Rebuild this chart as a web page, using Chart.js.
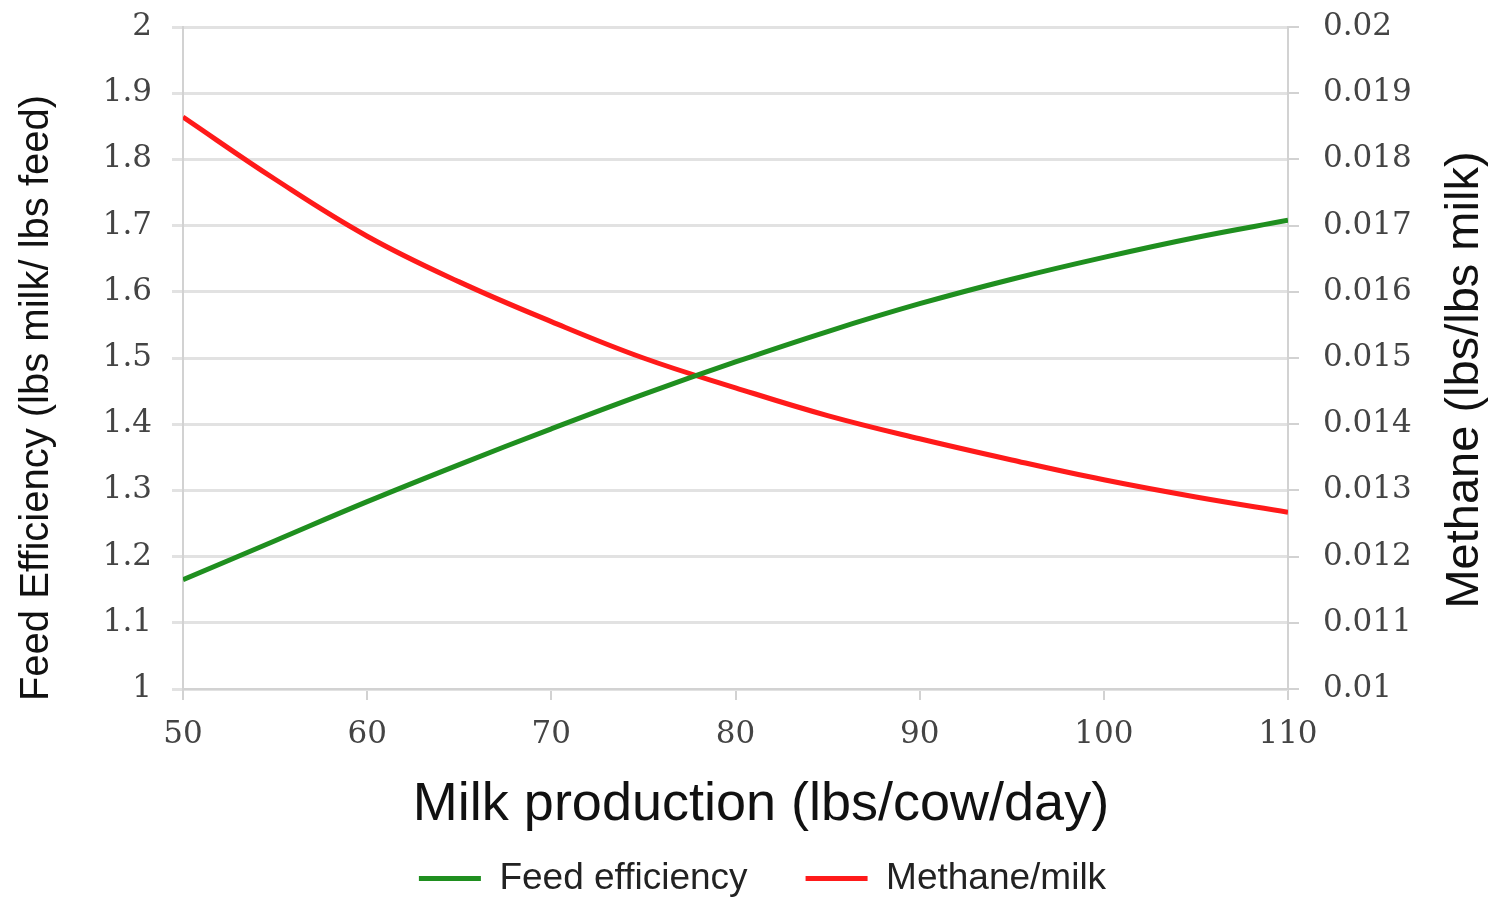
<!DOCTYPE html>
<html>
<head>
<meta charset="utf-8">
<script src="https://cdn.jsdelivr.net/npm/chart.js@4.4.1/dist/chart.umd.min.js"></script>
<style>
  html, body { margin: 0; padding: 0; background: #fff; }
  #wrap { width: 1489px; height: 900px; }
</style>
</head>
<body>
<div id="wrap"><canvas id="milkChart"></canvas></div>
<script>
// values
const milk = [50, 55, 60, 65, 70, 75, 80, 85, 90, 95, 100, 105, 110];
const feedEfficiency = [1.165, 1.224, 1.283, 1.339, 1.393, 1.445, 1.494, 1.54, 1.582, 1.619, 1.652, 1.682, 1.708];
const methanePerMilk = [0.01864, 0.0177, 0.01684, 0.01615, 0.01555, 0.015, 0.01455, 0.01413, 0.01378, 0.01346, 0.01316, 0.0129, 0.01267];

const xTicks = [50, 60, 70, 80, 90, 100, 110];
const leftTicks = [1, 1.1, 1.2, 1.3, 1.4, 1.5, 1.6, 1.7, 1.8, 1.9, 2];
const rightTicks = [0.01, 0.011, 0.012, 0.013, 0.014, 0.015, 0.016, 0.017, 0.018, 0.019, 0.02];

const seriesNames = ["Feed efficiency", "Methane/milk"];
const xTitle = "Milk production (lbs/cow/day)";
const leftTitle = "Feed Efficiency (lbs milk/ lbs feed)";
const rightTitle = "Methane (lbs/lbs milk)";

const tickFont = { family: "'DejaVu Serif', serif", size: 31 };
const tickColor = "#444";
const gridColor = "#e2e2e2";
const axisColor = "#d2d2d2";

function points(ys) {
    return milk.map((m, i) => ({ x: m, y: ys[i] }));
}

// y axes: fixed width, no extra room above/below for the end labels
function fixY(width) {
    return s => {
        s.width = width;
        s.paddingTop = 0;
        s.paddingBottom = 0;
    };
}

// legend box: fixed height so the row sits near the bottom edge, nudged right a little
const legendPlace = {
    id: "legendPlace",
    afterInit(chart) {
        const lg = chart.legend;
        const fit = lg.fit;
        lg.fit = function () {
            fit.call(this);
            this.height = 98;
        };
    },
    afterLayout(chart) {
        chart.legend.left += 18;
        chart.legend.right += 18;
    }
};

// axis titles (left and right read bottom to top)
const axisTitles = {
    id: "axisTitles",
    afterDraw(chart) {
        const ctx = chart.ctx;
        ctx.save();
        ctx.fillStyle = "#111";
        ctx.textAlign = "center";
        ctx.textBaseline = "alphabetic";

        ctx.font = "54px 'Liberation Sans', Arial, sans-serif";
        ctx.fillText(xTitle, 761, 820);

        ctx.save();
        ctx.translate(48, 398);
        ctx.rotate(-Math.PI / 2);
        ctx.font = "40px 'Liberation Sans', Arial, sans-serif";
        ctx.fillText(leftTitle, 0, 0);
        ctx.restore();

        ctx.save();
        ctx.translate(1478, 380);
        ctx.rotate(-Math.PI / 2);
        ctx.font = "47px 'Liberation Sans', Arial, sans-serif";
        ctx.fillText(rightTitle, 0, 0);
        ctx.restore();

        ctx.restore();
    }
};

new Chart(document.getElementById("milkChart"), {
    type: "line",
    data: {
        datasets: [{
            label: seriesNames[0],
            data: points(feedEfficiency),
            yAxisID: "y",
            borderColor: "#1f8f1f",
            backgroundColor: "#1f8f1f",
            borderWidth: 5,
            pointRadius: 0,
            tension: 0.4
        }, {
            label: seriesNames[1],
            data: points(methanePerMilk),
            yAxisID: "y2",
            borderColor: "#ff1a1a",
            backgroundColor: "#ff1a1a",
            borderWidth: 5,
            pointRadius: 0,
            tension: 0.4
        }]
    },
    options: {
        responsive: true,
        maintainAspectRatio: false,
        animation: false,
        layout: { padding: { top: 27, left: 0, right: 0, bottom: 0 } },
        plugins: {
            tooltip: { enabled: false },
            legend: {
                position: "bottom",
                labels: {
                    usePointStyle: true,
                    pointStyle: "line",
                    pointStyleWidth: 62,
                    boxHeight: 6,
                    padding: 58,
                    color: "#222",
                    font: { family: "'Liberation Sans', Arial, sans-serif", size: 37 }
                }
            }
        },
        scales: {
            x: {
                type: "linear",
                min: 50,
                max: 110,
                afterBuildTicks: s => { s.ticks = xTicks.map(v => ({ value: v })); },
                afterFit: s => { s.height = 113; },
                ticks: { font: tickFont, color: tickColor, padding: 16, maxRotation: 0 },
                grid: { drawOnChartArea: false, drawTicks: true, tickLength: 11, color: axisColor, lineWidth: 2 },
                border: { display: true, color: axisColor, width: 2 }
            },
            y: {
                position: "left",
                min: 1,
                max: 2,
                afterBuildTicks: s => { s.ticks = leftTicks.map(v => ({ value: v })); },
                afterFit: fixY(183),
                ticks: { font: tickFont, color: tickColor, padding: 20, callback: v => String(+v.toFixed(2)) },
                grid: { color: gridColor, lineWidth: 3, tickLength: 11 },
                border: { display: true, color: axisColor, width: 2 }
            },
            y2: {
                position: "right",
                min: 0.01,
                max: 0.02,
                afterBuildTicks: s => { s.ticks = rightTicks.map(v => ({ value: v })); },
                afterFit: fixY(201),
                ticks: { font: tickFont, color: tickColor, padding: 24, callback: v => String(+v.toFixed(4)) },
                grid: { drawOnChartArea: false, color: axisColor, lineWidth: 2, tickLength: 11 },
                border: { display: true, color: axisColor, width: 2 }
            }
        }
    },
    plugins: [legendPlace, axisTitles]
});
</script>
</body>
</html>
